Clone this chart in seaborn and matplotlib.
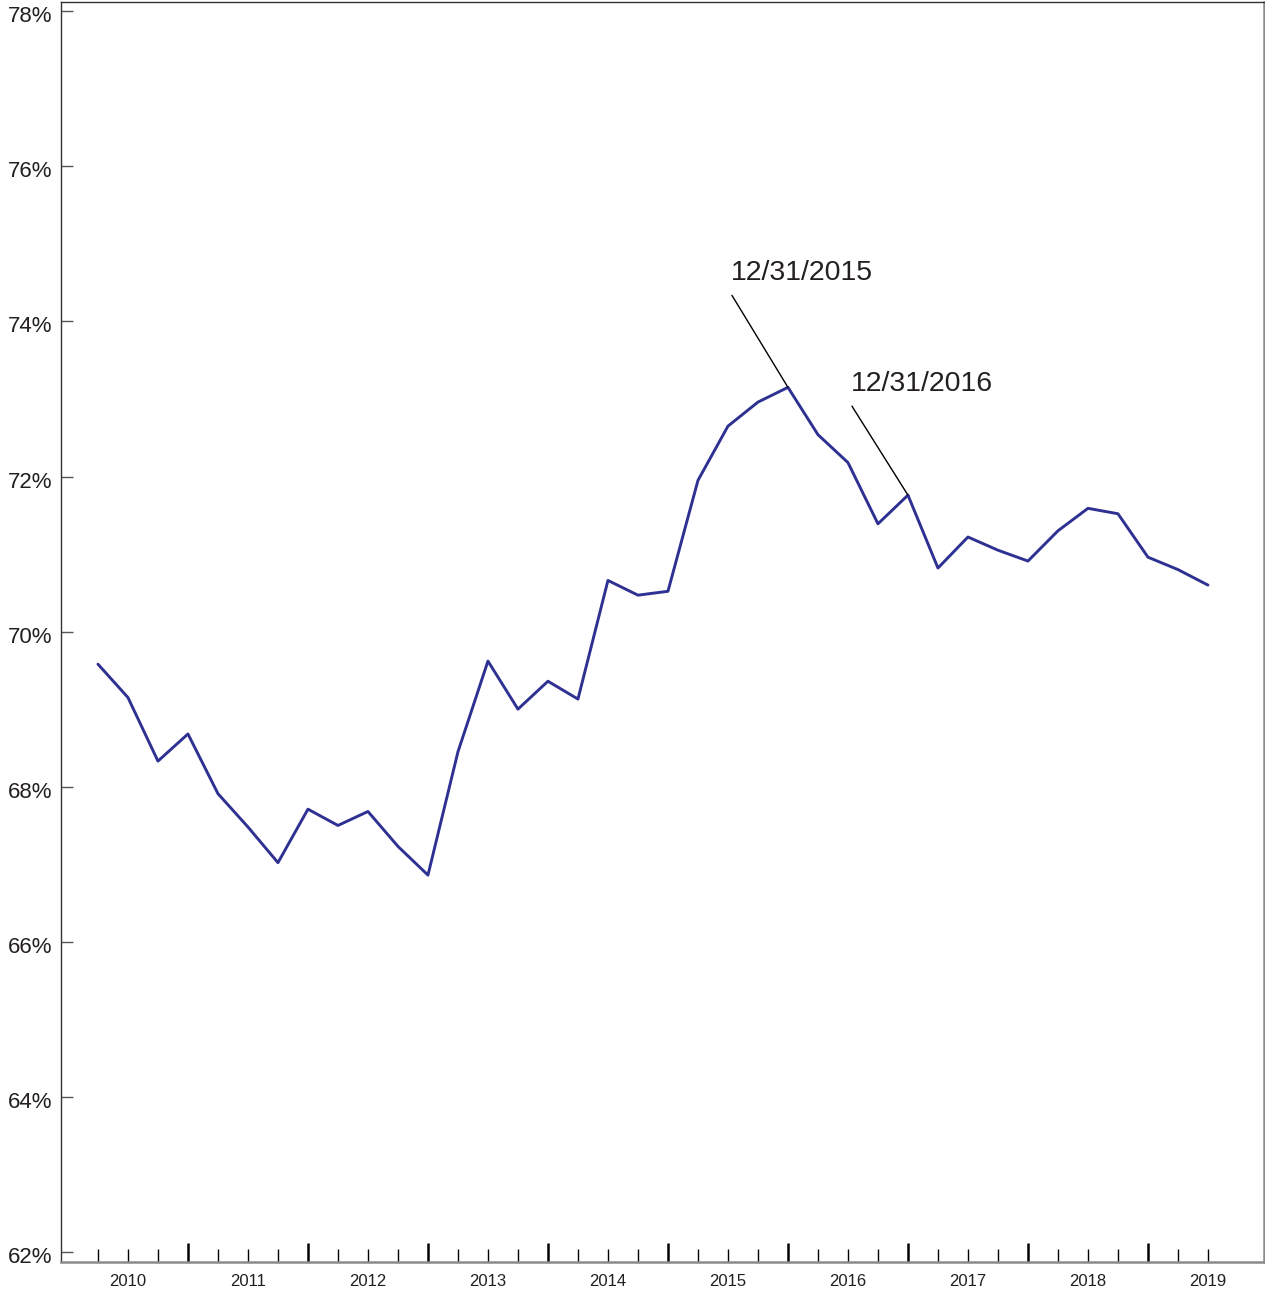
import numpy as np
import pandas as pd
import seaborn as sns
import matplotlib.pyplot as plt
import matplotlib.transforms as mtransforms
from matplotlib.ticker import FixedLocator, FixedFormatter, NullFormatter

# quarterly values, Q1 2010 .. Q2 2019
quarters = pd.period_range('2010Q1', '2019Q2', freq='Q')
ratio = [69.58, 69.15, 68.33, 68.68, 67.91, 67.48, 67.02, 67.71,
         67.50, 67.68, 67.23, 66.86, 68.45, 69.62, 69.00, 69.36,
         69.13, 70.66, 70.47, 70.52, 71.95, 72.65, 72.96, 73.15,
         72.54, 72.18, 71.39, 71.76, 70.82, 71.22, 71.05, 70.91,
         71.30, 71.59, 71.52, 70.96, 70.80, 70.60]
notes = ['12/31/2015', '12/31/2016']

# quarter end as fractional year: Q4 2015 -> 2016.0 (12/31/2015)
df = pd.DataFrame({'t': quarters.year + quarters.quarter / 4, 'ratio': ratio})

sns.set_style('white')
plt.rcParams['font.family'] = ['Liberation Sans', 'DejaVu Sans']
txt = '#231F20'

fig = plt.figure(figsize=(12.65, 12.91), dpi=100)
ax = fig.add_axes([61 / 1265, 29 / 1291, 1203 / 1265, 1260 / 1291])

sns.lineplot(data=df, x='t', y='ratio', ax=ax, color='#2E3192', lw=2.1)

ax.set(xlim=(2009.942, 2019.967), ylim=(61.87, 78.12), xlabel='', ylabel='')

# y axis
yt = np.arange(62, 79, 2)
ax.set_yticks(yt)
ax.set_yticklabels([f'{v}%' for v in yt])
ax.tick_params(axis='y', direction='in', length=8.6, width=1, color='#555555',
               pad=6.5, labelsize=16, labelcolor=txt, left=True)
# labels sit a few pixels below their tick in the original
shift = mtransforms.ScaledTranslation(0, -3 / 100, fig.dpi_scale_trans)
for lab in ax.get_yticklabels():
    lab.set_transform(lab.get_transform() + shift)

# x axis: year-end major ticks, quarterly minor ticks, year label mid-year
ax.xaxis.set_major_locator(FixedLocator(range(2011, 2020)))
ax.xaxis.set_major_formatter(NullFormatter())
minor = [t for t in df['t'] if t % 1 != 0]
ax.xaxis.set_minor_locator(FixedLocator(minor))
ax.xaxis.set_minor_formatter(FixedFormatter(
    [str(int(t)) if t % 1 == 0.5 else '' for t in minor]))
ax.tick_params(axis='x', which='major', direction='in', length=13.5, width=1.8,
               color='black', bottom=True)
ax.tick_params(axis='x', which='minor', direction='in', length=9.5, width=1,
               color='black', pad=8.5, labelsize=12, labelcolor=txt, bottom=True)

for s in ['top', 'left']:
    ax.spines[s].set_color('#333333')
    ax.spines[s].set_linewidth(1)
for s in ['bottom', 'right']:
    ax.spines[s].set_color('#8a8a8a')
    ax.spines[s].set_linewidth(1.8)

# callouts
for label, t, dy_txt, dy_line in [(notes[0], 2016.0, 107, 92), (notes[1], 2017.0, 104, 89)]:
    y = df.loc[np.isclose(df['t'], t), 'ratio'].iloc[0]
    ax.annotate('', xy=(t, y), xytext=(-56, dy_line), textcoords='offset pixels',
                arrowprops=dict(arrowstyle='-', color='black', lw=1,
                                shrinkA=0, shrinkB=0))
    ax.annotate(label, xy=(t, y), xytext=(-57, dy_txt), textcoords='offset pixels',
                ha='left', va='baseline', fontsize=20.5, color=txt)

plt.savefig('out.png', dpi=100)
